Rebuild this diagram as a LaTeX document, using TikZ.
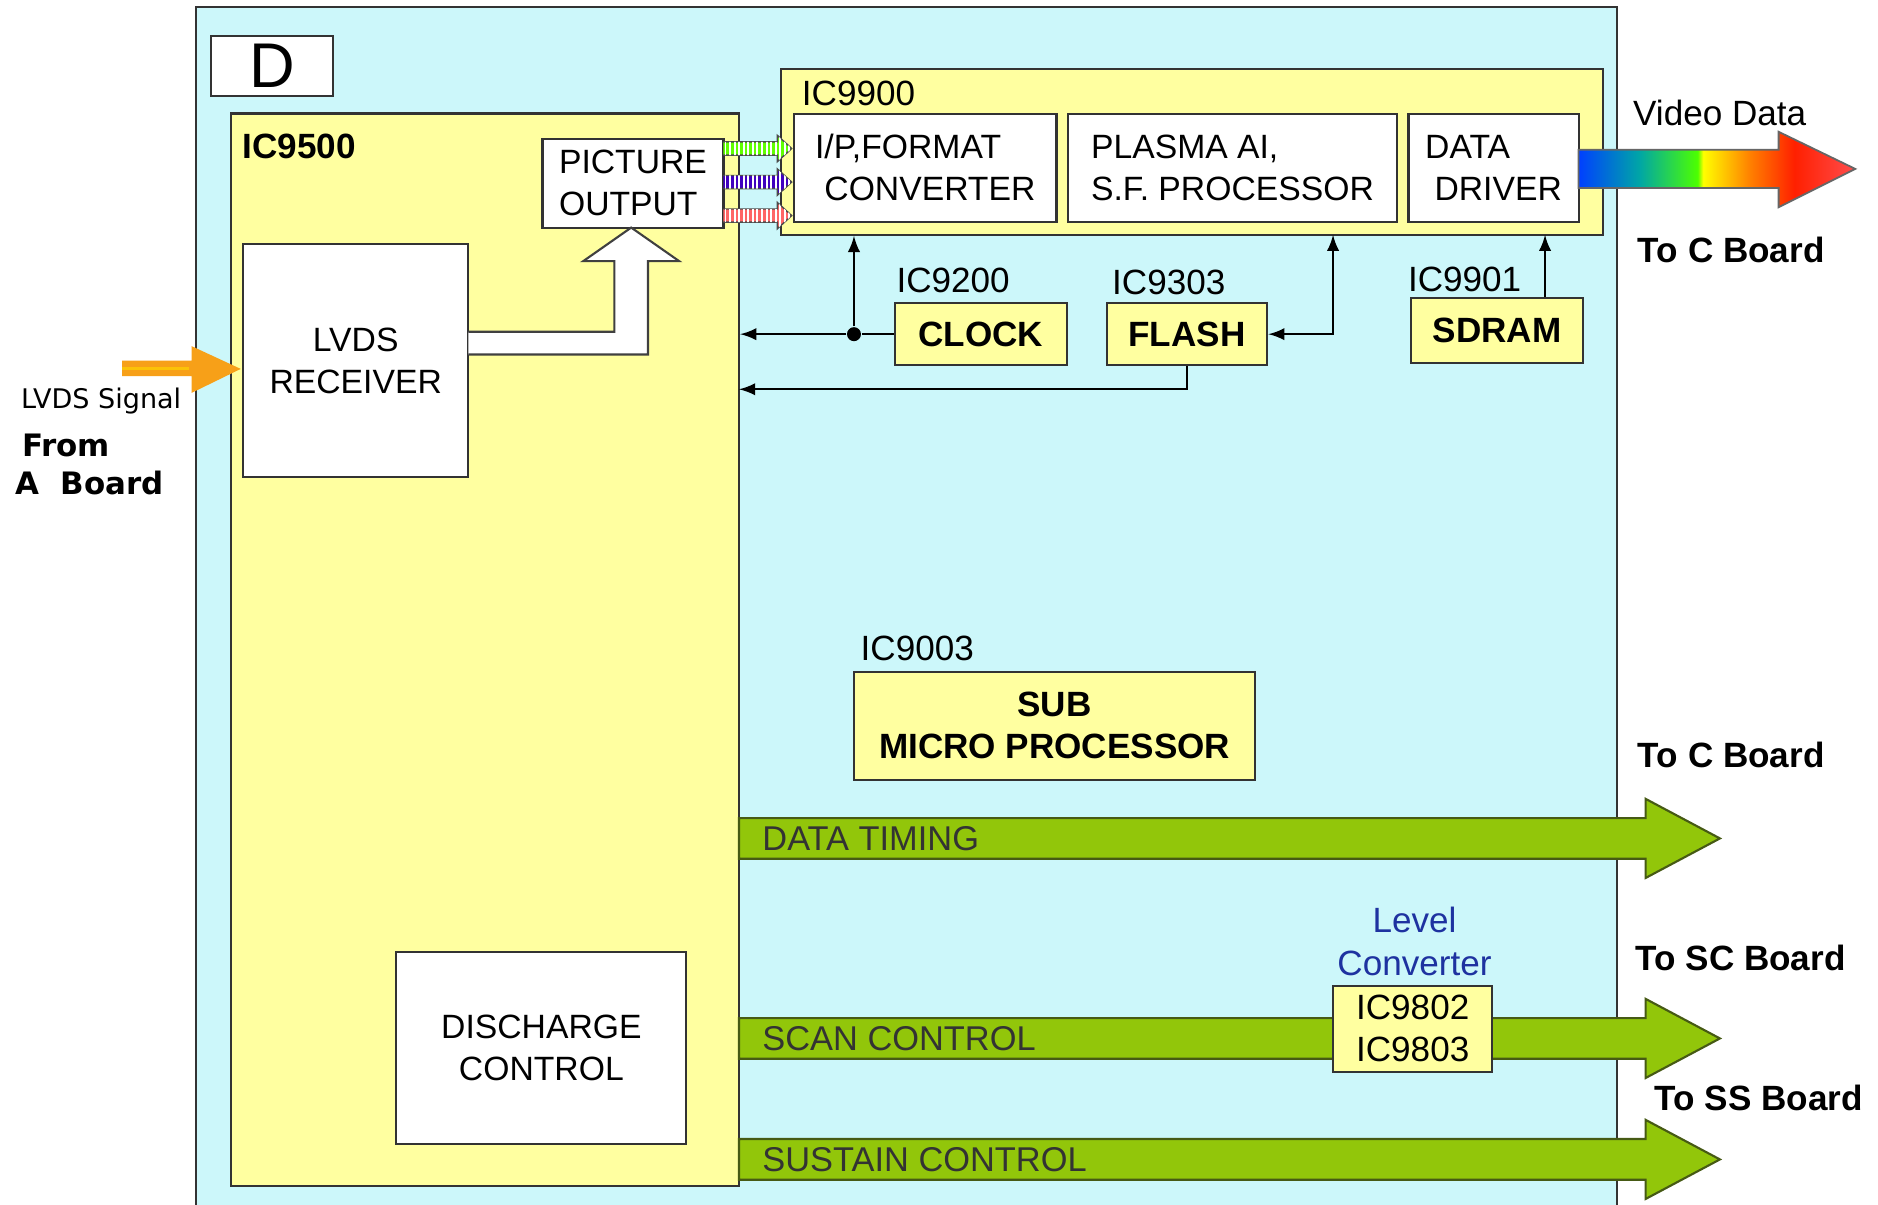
\documentclass[tikz,border=0pt]{standalone}
\usepackage{fontspec}
\setmainfont{Liberation Sans}
\newfontfamily\wideface{DejaVu Sans}
\usetikzlibrary{patterns.meta}

\definecolor{boardcyan}{RGB}{204,247,250}
\definecolor{chipyellow}{RGB}{255,255,160}
\definecolor{busgreen}{RGB}{146,198,10}
\definecolor{busedge}{RGB}{70,90,20}
\definecolor{lvdsorange}{RGB}{247,160,24}
\definecolor{convblue}{RGB}{30,50,160}

\pgfdeclarehorizontalshading{videoband}{100bp}{color(0bp)=(blue!75!cyan); color(25bp)=(blue!75!cyan); color(36bp)=(teal!70!cyan); color(46.5bp)=(green!70!yellow); color(47.5bp)=(yellow); color(56bp)=(orange); color(64bp)=(red!75!orange); color(75bp)=(red!70); color(100bp)=(red!70)}

\newcommand{\boxfont}{\fontsize{9.6}{12}\selectfont}
\newcommand{\tagfont}{\fontsize{10}{12}\selectfont\bfseries}

\begin{document}
\begin{tikzpicture}[
        x=0.012cm, y=-0.012cm,
        board/.style={rectangle, draw=black!80, line width=0.6pt, fill=boardcyan, inner sep=0pt},
        chip/.style={rectangle, draw=black!80, line width=0.6pt, fill=chipyellow, inner sep=0pt, align=center, font=\tagfont},
        block/.style={rectangle, draw=black!80, line width=0.6pt, fill=white, inner sep=0pt, align=left, font=\boxfont},
        icname/.style={anchor=west, inner sep=0pt, font=\fontsize{10}{12}\selectfont},
        sig/.style={-latex, line width=0.6pt},
        bus/.style={draw=busedge, line width=0.6pt, fill=busgreen}
    ]
        \useasboundingbox (0,0) rectangle (1568,1006);
        \fill[white] (0,0) rectangle (1568,1006);

        % Board D and the two big chips
        \node[board, minimum width=14.232cm, minimum height=12.1cm] (board) at (757,510) {};
        \node[block, align=center, font=\fontsize{18}{20}\selectfont, minimum width=1.224cm, minimum height=0.6cm] (dtag) at (227,55) {D};

        \node[chip, minimum width=5.088cm, minimum height=10.74cm] (ic9500) at (405,542.5) {};
        \node[icname, font=\tagfont] (ic9500lbl) at (202,122) {IC9500};

        \node[block, minimum width=1.812cm, minimum height=0.888cm] (picout) at (528.5,153) {PICTURE\\OUTPUT};
        \node[block, align=center, minimum width=2.256cm, minimum height=2.328cm] (lvds) at (297,301) {LVDS\\RECEIVER};
        \node[block, align=center, minimum width=2.904cm, minimum height=1.92cm] (discharge) at (452,875) {DISCHARGE\\CONTROL};

        \node[chip, minimum width=8.232cm, minimum height=1.656cm] (ic9900) at (995,127) {};
        \node[icname] (ic9900lbl) at (669,78) {IC9900};
        \node[block, minimum width=2.628cm, minimum height=1.08cm] (ipconv) at (772.5,140) {I/P,FORMAT\\\ CONVERTER};
        \node[block, minimum width=3.288cm, minimum height=1.08cm] (plasma) at (1029,140) {PLASMA AI,\\S.F. PROCESSOR};
        \node[block, minimum width=1.704cm, minimum height=1.08cm] (driver) at (1247,140) {DATA\\\ DRIVER};

        % Small chips under IC9900
        \node[chip, minimum width=1.728cm, minimum height=0.624cm] (clock) at (819,279) {CLOCK};
        \node[icname] (ic9200lbl) at (748,234) {IC9200};
        \node[chip, minimum width=1.608cm, minimum height=0.624cm] (flash) at (991,279) {FLASH};
        \node[icname] (ic9303lbl) at (928,236) {IC9303};
        \node[chip, minimum width=1.728cm, minimum height=0.648cm] (sdram) at (1250,276) {SDRAM};
        \node[icname] (ic9901lbl) at (1175,233) {IC9901};
        \node[chip, minimum width=4.02cm, minimum height=1.08cm] (submicro) at (880.5,606) {SUB\\MICRO PROCESSOR};
        \node[icname] (ic9003lbl) at (718,541) {IC9003};

        % Clock, flash and sdram lines
        \node[circle, fill=black, inner sep=0pt, minimum size=0.14cm] (clkdot) at (713,279) {};
        \draw[line width=0.6pt] (clock.west) -- (clkdot);
        \draw[sig] (clkdot) -- (clkdot -| ic9500.east);
        \draw[sig] (clkdot) -- (clkdot |- ic9900.south);
        \coordinate (flashtap) at (1113,196);
        \draw[sig, latex-latex] (flash.east) -| (flashtap);
        \coordinate (flashret) at (617,325);
        \draw[sig] (flash.south) |- (flashret);
        \coordinate (sdramtap) at (1290,196);
        \draw[sig] (sdramtap |- sdram.north) -- (sdramtap);

        % LVDS input and receiver -> picture output
        \fill[lvdsorange] (102,301) -- (160,301) -- (160,289) -- (201,308) -- (160,328) -- (160,314) -- (102,314) -- cycle;
        \fill[yellow!55!orange] (102,306) rectangle (158,309);
        \draw[line width=0.6pt, draw=black!75, fill=white] (391,277) -- (513,277) -- (513,218) -- (487,218) -- (527,190) -- (567,218) -- (541,218) -- (541,296) -- (391,296);

        % Three colour links picture output -> converter
        \foreach \yc/\cc in {124/green!50!lime, 152/blue!50!violet, 180/red!60} {
            \draw[line width=0.4pt, draw=black!70, fill=\cc, postaction={pattern={Lines[angle=90, distance=1.3pt, line width=0.55pt]}, pattern color=white}]
                (604,\yc-5.5) -- (649,\yc-5.5) -- (649,\yc-11) -- (661,\yc) -- (649,\yc+11) -- (649,\yc+5.5) -- (604,\yc+5.5);
        }

        % Video data out
        \shadedraw[shading=videoband, draw=black!60, line width=0.5pt] (1318,125) -- (1485,125) -- (1485,110) -- (1549,141) -- (1485,173) -- (1485,157) -- (1318,157) -- cycle;
        \node[icname] (videolbl) at (1363,94) {Video Data};
        \node[icname, font=\tagfont] (tocboard) at (1367,209) {To C Board};

        % Control buses
        \foreach \yc/\txt/\nm in {700/DATA TIMING/timing, 867/SCAN CONTROL/scan, 968/SUSTAIN CONTROL/sustain} {
            \draw[bus] (617,\yc-17) -- (1374,\yc-17) -- (1374,\yc-33) -- (1436,\yc) -- (1374,\yc+33) -- (1374,\yc+17) -- (617,\yc+17) -- cycle;
            \node[icname, font=\fontsize{9.8}{12}\selectfont, text=black!80] (\nm) at (636,\yc) {\txt};
        }
        \node[chip, font=\fontsize{10}{12}\selectfont, minimum width=1.596cm, minimum height=0.864cm] (levelconv) at (1179.5,859) {IC9802\\IC9803};
        \node[align=center, inner sep=0pt, text=convblue, font=\fontsize{10}{12}\selectfont] (convlbl) at (1181,786) {Level\\Converter};

        % Side annotation
        \node[icname, font=\tagfont] (tocboard2) at (1367,630) {To C Board};
        \node[icname, font=\tagfont] (toscboard) at (1365,800) {To SC Board};
        \node[icname, font=\tagfont] (tossboard) at (1381,917) {To SS Board};
        \node[icname, font=\wideface\fontsize{7.7}{9}\selectfont] (lvdssig) at (17,335) {LVDS Signal};
        \node[icname, font=\wideface\bfseries\fontsize{8.8}{10}\selectfont] (fromlbl) at (18,372) {From};
        \node[icname, font=\wideface\bfseries\fontsize{8.8}{10}\selectfont] (aboard) at (12,403) {A\ \ Board};

    \end{tikzpicture}
\end{document}
